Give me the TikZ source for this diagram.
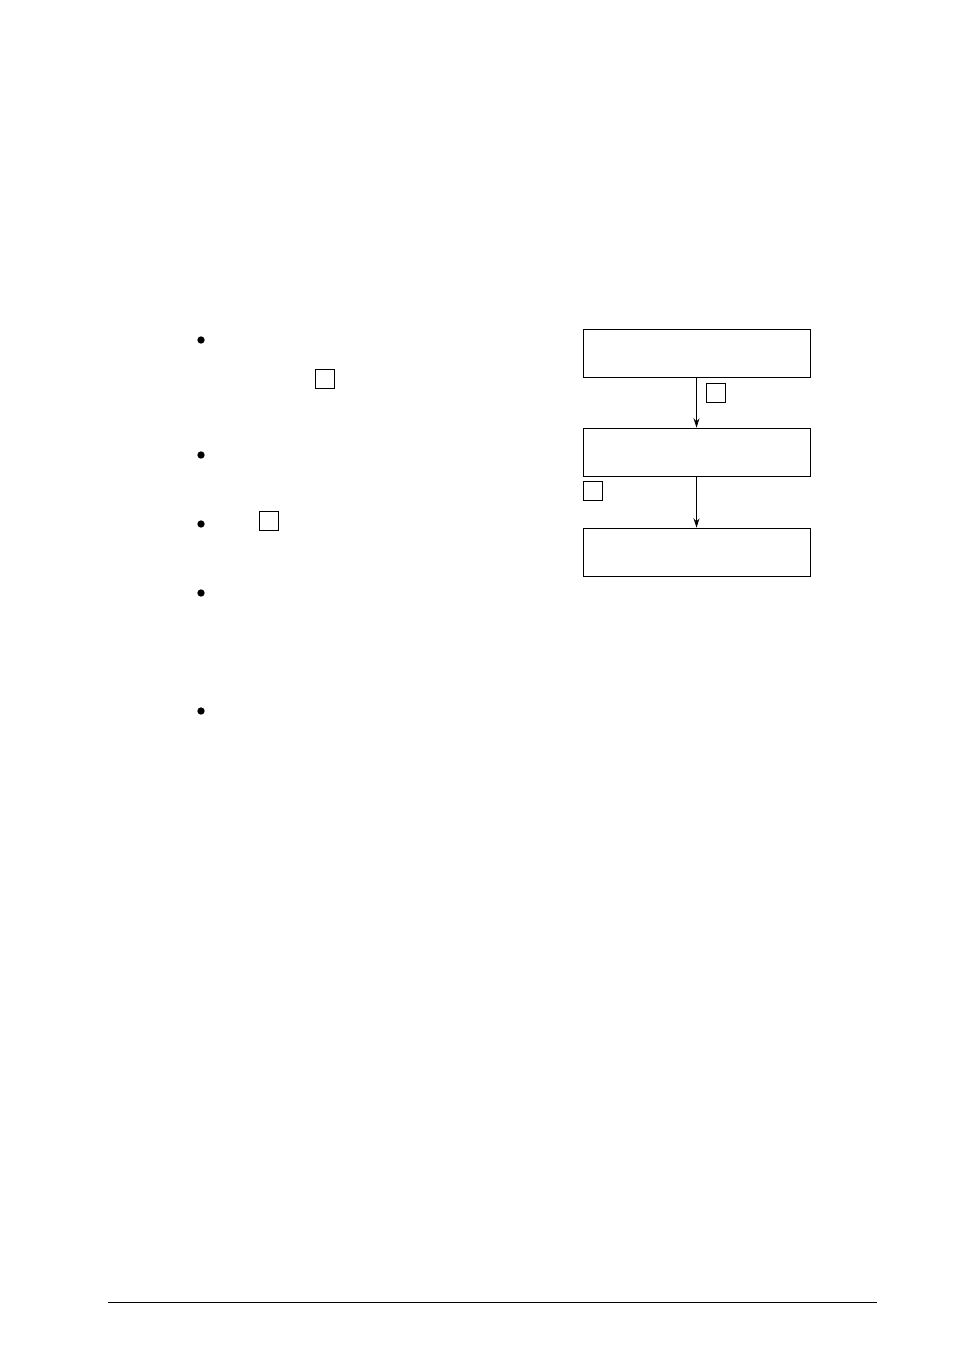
\documentclass[tikz,border=0pt]{standalone}
\usetikzlibrary{arrows.meta,positioning}
\tikzset{
  stepbox/.style={draw, line width=0.6pt, minimum width=170.25pt, minimum height=36pt, inner sep=0pt},
  tagbox/.style={draw, line width=0.6pt, minimum size=14.25pt, inner sep=0pt},
  dot/.style={circle, fill, minimum size=5.5pt, inner sep=0pt}
}
\begin{document}
\begin{tikzpicture}[x=0.75pt, y=-0.75pt]
\useasboundingbox (0,0) rectangle (954,1351);
\node[dot] (b0) at (201,340){};
\node[dot] (b1) at (201,455){};
\node[dot] (b2) at (201,524){};
\node[dot] (b3) at (201,593){};
\node[dot] (b4) at (201,711){};
\node[tagbox] (t0) at (324.5,378.5){};
\node[tagbox] (t1) at (268.5,520.5){};
\node[stepbox] (s0) at (696.5,353){};
\node[stepbox] (s1) at (696.5,452){};
\node[stepbox] (s2) at (696.5,552){};
\node[tagbox] (t2) at (715.5,392.5){};
\node[tagbox] (t3) at (592.5,490.5){};
\draw[line width=0.6pt, -{Stealth[length=7pt, width=4.5pt]}](s0) -- (s1);
\draw[line width=0.6pt, -{Stealth[length=7pt, width=4.5pt]}](s1) -- (s2);
\coordinate (f0) at (108,1302);
\coordinate (f1) at (877,1302);
\draw[line width=0.7pt](f0) -- (f1);
\end{tikzpicture}
\end{document}
